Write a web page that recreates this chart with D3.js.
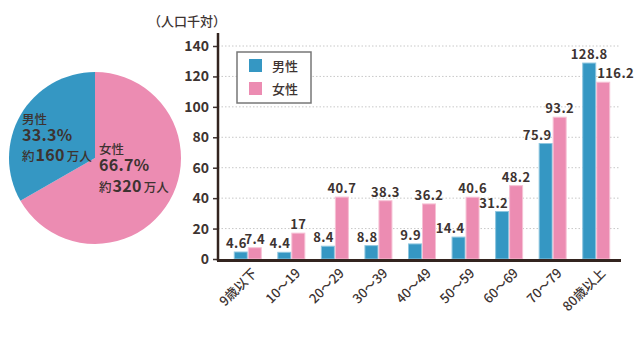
<!DOCTYPE html>
<html><head><meta charset="utf-8">
<script src="https://cdn.jsdelivr.net/npm/d3@7"></script>
<style>
html,body{margin:0;padding:0;background:#fff;}
svg{display:block;font-family:"Noto Sans CJK JP","Noto Sans",sans-serif;}
</style></head>
<body>
<svg id="c" width="640" height="337"></svg>
<script>
const categories = ["9歳以下","10〜19","20〜29","30〜39","40〜49","50〜59","60〜69","70〜79","80歳以上"];
const maleValues = [4.6,4.4,8.4,8.8,9.9,14.4,31.2,75.9,128.8];
const femaleValues = [7.4,17,40.7,38.3,36.2,40.6,48.2,93.2,116.2];
const maleLabels = ["4.6","4.4","8.4","8.8","9.9","14.4","31.2","75.9","128.8"];
const femaleLabels = ["7.4","17","40.7","38.3","36.2","40.6","48.2","93.2","116.2"];
const yTicks = [0,20,40,60,80,100,120,140];
const seriesNames = ["男性","女性"];
const pieShares = [66.7,33.3]; // 女性, 男性
const pieNames = ["女性","男性"];
const piePercentLabels = ["66.7%","33.3%"];
const pieCountLabels = ["320","160"];
const yTitle = "（人口千対）";

const BLUE="#3597c3", PINK="#ec8cb2", TEXT="#3d3331";
const svg = d3.select("#c");

// ---------- Pie ----------
const pieG = svg.append("g").attr("transform","translate(95,158)");
const pie = d3.pie().sort(null).value(d=>d);
const arc = d3.arc().innerRadius(0).outerRadius(86);
const pieColors=[PINK,BLUE];
pieG.selectAll("path").data(pie(pieShares)).join("path")
  .attr("d",arc).attr("fill",(d,i)=>pieColors[i]);

function pieLabel(x,y,i,gap2){
  const g = svg.append("g").attr("fill",TEXT);
  g.append("text").attr("x",x).attr("y",y).attr("font-size",12.5).attr("font-weight",500).text(pieNames[i]);
  g.append("text").attr("x",x).attr("y",y+17).attr("font-size",16).attr("font-weight",700).attr("letter-spacing",0.3).text(piePercentLabels[i]);
  const t = g.append("text").attr("x",x).attr("y",y+17+gap2);
  t.append("tspan").attr("font-size",12.5).attr("font-weight",500).text("約");
  t.append("tspan").attr("font-size",16).attr("font-weight",700).attr("dx",1).attr("letter-spacing",0.3).text(pieCountLabels[i]);
  t.append("tspan").attr("font-size",12.5).attr("font-weight",500).attr("dx",2).text("万人");
}
pieLabel(99,154,0,21);
pieLabel(22,124,1,20);

// ---------- Bars ----------
const x0 = d3.scaleBand().domain(categories).range([226,618]).paddingInner(0.357).paddingOuter(0.1785);
const x1 = d3.scaleBand().domain(["m","f"]).range([0,x0.bandwidth()]);
const y = d3.scaleLinear().domain([0,140]).range([259,46]);

// grid
svg.append("g").selectAll("line").data(yTicks.slice(1)).join("line")
  .attr("x1",218).attr("x2",620).attr("y1",d=>y(d)).attr("y2",d=>y(d))
  .attr("stroke","#c8c8c8").attr("stroke-width",1).attr("stroke-dasharray","1.5,2");

const data = categories.map((c,i)=>({c,m:maleValues[i],f:femaleValues[i],ml:maleLabels[i],fl:femaleLabels[i]}));
const grp = svg.append("g").selectAll("g").data(data).join("g")
  .attr("transform",d=>`translate(${x0(d.c)},0)`);
grp.append("rect").attr("x",x1("m")+0.5).attr("width",x1.bandwidth()-1)
  .attr("y",d=>y(d.m)).attr("height",d=>y(0)-y(d.m))
  .attr("fill",BLUE).attr("stroke","#8ec6df").attr("stroke-width",1);
grp.append("rect").attr("x",x1("f")+0.5).attr("width",x1.bandwidth()-1)
  .attr("y",d=>y(d.f)).attr("height",d=>y(0)-y(d.f))
  .attr("fill",PINK).attr("stroke","#f6c1d5").attr("stroke-width",1);

// value labels
grp.append("text").attr("font-size",13).attr("font-weight",700).attr("fill",TEXT).attr("letter-spacing",0.4)
  .attr("text-anchor",d=>d.m>d.f?"middle":"end")
  .attr("x",d=>d.m>d.f? x1("m")+x1.bandwidth()/2 : x1("m")+x1.bandwidth()-1)
  .attr("y",d=>y(d.m)-4).text(d=>d.ml);
grp.append("text").attr("font-size",13).attr("font-weight",700).attr("fill",TEXT).attr("letter-spacing",0.4)
  .attr("text-anchor",d=>d.m>d.f?"start":"middle")
  .attr("x",d=>d.m>d.f? x1("f")+1 : x1("f")+x1.bandwidth()/2)
  .attr("y",d=>y(d.f)-4).text(d=>d.fl);

// y axis
const yAxis = svg.append("g").attr("transform","translate(218,0)")
  .call(d3.axisLeft(y).tickValues(yTicks).tickSize(5).tickPadding(4));
yAxis.select(".domain").remove();
yAxis.selectAll(".tick line").attr("stroke",TEXT).attr("stroke-width",1.5);
yAxis.selectAll("text").attr("font-size",14).attr("font-weight",700).attr("fill",TEXT)
  .attr("font-family",'"Noto Sans CJK JP",sans-serif');
svg.append("line").attr("x1",218).attr("x2",218).attr("y1",33).attr("y2",261)
  .attr("stroke","#33241f").attr("stroke-width",2.5);

// x axis
const xAxis = svg.append("g").attr("transform","translate(0,260)")
  .call(d3.axisBottom(x0).tickSize(0).tickPadding(0));
xAxis.select(".domain").remove();
xAxis.selectAll("text").attr("font-size",13).attr("font-weight",500).attr("fill",TEXT)
  .attr("font-family",'"Noto Sans CJK JP",sans-serif')
  .attr("text-anchor","end").attr("dy",null).attr("y",0).attr("x",0)
  .attr("transform","translate(10,14) rotate(-45)");
svg.append("line").attr("x1",217).attr("x2",621).attr("y1",260.5).attr("y2",260.5)
  .attr("stroke","#33241f").attr("stroke-width",3);

// y title
svg.append("text").attr("x",187).attr("y",26).attr("text-anchor","middle")
  .attr("font-size",13).attr("font-weight",500).attr("fill",TEXT).text(yTitle);

// legend
const lg = svg.append("g");
lg.append("rect").attr("x",237).attr("y",52).attr("width",74).attr("height",51)
  .attr("fill","#fff").attr("stroke","#777").attr("stroke-width",1.5);
const lColors=[BLUE,PINK];
seriesNames.forEach((n,i)=>{
  lg.append("rect").attr("x",249).attr("y",59+i*23).attr("width",13).attr("height",13).attr("fill",lColors[i]);
  lg.append("text").attr("x",272).attr("y",71+i*23).attr("font-size",13).attr("font-weight",500)
    .attr("fill",TEXT).text(n);
});
</script>
</body></html>
